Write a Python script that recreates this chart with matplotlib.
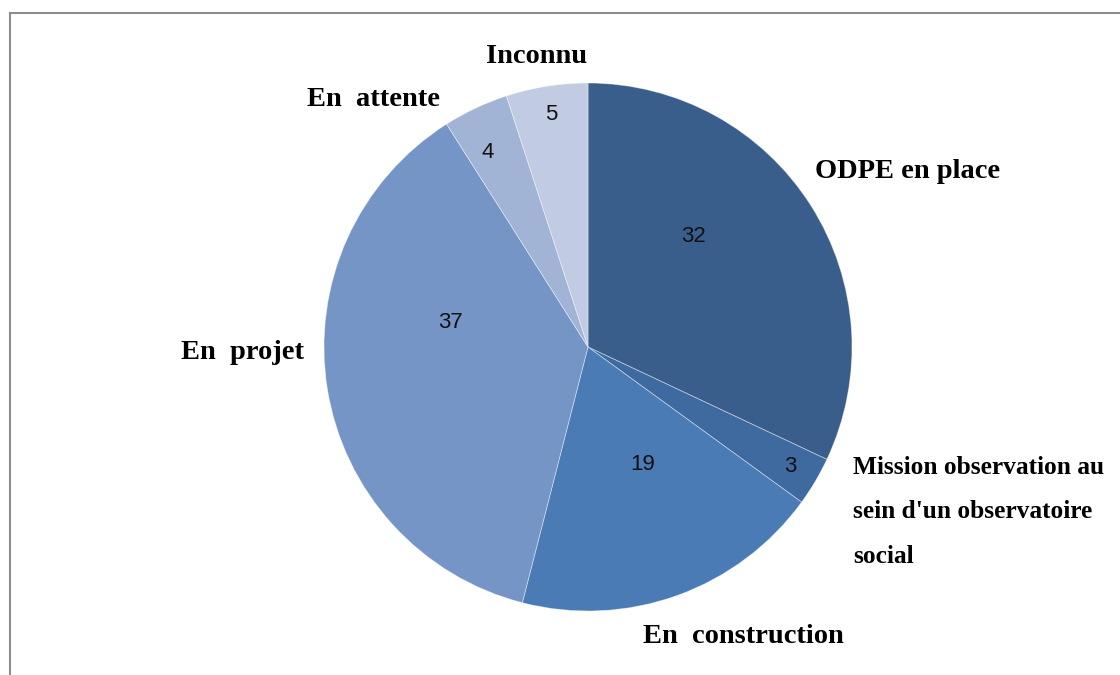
import matplotlib.pyplot as plt
import numpy as np
from matplotlib.lines import Line2D

categories = ["ODPE en place", "Mission observation au\nsein d'un observatoire\nsocial",
              "En  construction", "En  projet", "En  attente", "Inconnu"]
values = [32, 3, 19, 37, 4, 5]
colors = ["#3a5e8b", "#3e6a9f", "#4a7bb5", "#7495c5", "#a2b4d6", "#c1cbe2"]

# number labels: (radius, angle offset in degrees) relative to each wedge middle
num_pos = [(0.58, 14), (0.89, 0), (0.49, 5), (0.53, -19), (0.83, 2), (0.89, 0)]
# category labels: anchor in axes data units (pie radius = 1) and alignment
cat_pos = [(0.86, 0.665, "left"), (1.004, -0.625, "left"), (0.59, -1.095, "center"),
           (-1.31, -0.02, "center"), (-0.814, 0.936, "center"), (-0.193, 1.102, "center")]

W, H = 1120, 675
fig = plt.figure(figsize=(W / 100, H / 100), dpi=100)
cx, cy, r = 588, 347, 264
ax = fig.add_axes([(cx - r) / W, (H - cy - r) / H, 2 * r / W, 2 * r / H])

wedges, _ = ax.pie(values, colors=colors, startangle=90, counterclock=False,
                   radius=1, wedgeprops=dict(edgecolor=(1, 1, 1, 0.45), linewidth=0.6))
ax.set_xlim(-1, 1)
ax.set_ylim(-1, 1)
ax.set_aspect("equal")
ax.axis("off")

for w, v, (rd, off) in zip(wedges, values, num_pos):
    mid = np.deg2rad((w.theta1 + w.theta2) / 2 + off)
    ax.text(rd * np.cos(mid), rd * np.sin(mid), str(v), ha="center", va="center",
            fontsize=16, family="Liberation Sans", color="#111111")

serif = "Liberation Serif"
for lab, (x, y, ha) in zip(categories, cat_pos):
    if "Mission" in lab:
        ax.text(x, y, lab, ha=ha, va="center", fontsize=18.3, fontweight="bold",
                family=serif, linespacing=2.2, clip_on=False)
    else:
        ax.text(x, y, lab, ha=ha, va="center", fontsize=20.5, fontweight="bold",
                family=serif, clip_on=False)

# chart border (only top and left edges visible)
fig.add_artist(Line2D([9.5 / W, 9.5 / W], [0, 1 - 12.5 / H], transform=fig.transFigure,
                      color="#8c8c8c", lw=1.5))
fig.add_artist(Line2D([9.5 / W, 1], [1 - 12.5 / H, 1 - 12.5 / H], transform=fig.transFigure,
                      color="#8c8c8c", lw=1.5))

fig.savefig("out.png", dpi=100)
